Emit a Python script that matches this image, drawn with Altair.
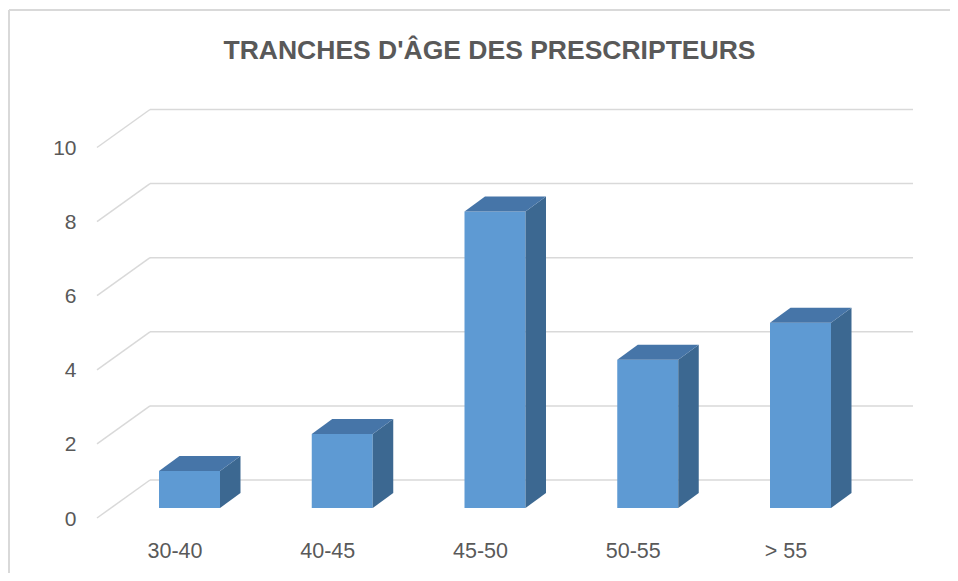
import altair as alt
import pandas as pd

# ---- data ----
categories = ["30-40", "40-45", "45-50", "50-55", "> 55"]
counts = [1, 2, 8, 4, 5]
y_ticks = [0, 2, 4, 6, 8, 10]
title_text = "TRANCHES D'ÂGE DES PRESCRIPTEURS"

# ---- layout (pixels) ----
W, H = 941, 563            # plot area
PX_X = 152.75              # px per category step
PX_Y = 37.05               # px per unit
X0 = 180.5                 # px of first category centre inside the view
Y0 = 498.0                 # px of value 0 (bar plane) inside the view
x_dom = [-X0 / PX_X, (W - X0) / PX_X]
y_dom = [-(H - Y0) / PX_Y, Y0 / PX_Y]

HALF = 30.5 / PX_X         # half bar width
DX = 20.5 / PX_X           # depth x
DY = 15.0 / PX_Y           # depth y
G_BACK_X = -39.5 / PX_X
G_FRONT_X = -92.5 / PX_X
G_END_X = 723.5 / PX_X
G_BACK_Y = 28.0 / PX_Y
G_FRONT_Y = -10.0 / PX_Y

FRONT, TOP, SIDE = "#5E9AD3", "#4675A8", "#3C6891"
GRID = "#D9D9D9"
TXT = "#595959"

xs = alt.Scale(domain=x_dom, nice=False, zero=False)
ys = alt.Scale(domain=y_dom, nice=False, zero=False)

label_expr = "[" + ",".join("'" + c + "'" for c in categories) + "][datum.value]"
x_axis = alt.Axis(values=list(range(len(categories))), labelExpr=label_expr,
                  grid=False, domain=False, ticks=False, tickSize=0,
                  labelPadding=0, labelBaseline="middle", offset=-22,
                  labelOffset=-15, labelFontSize=21.5, labelColor=TXT,
                  labelFont="Liberation Sans", title=None)
y_axis = alt.Axis(values=y_ticks, grid=False, domain=False, ticks=False,
                  tickSize=0, labelPadding=0, offset=-67, labelOffset=11,
                  labelBaseline="middle", labelFontSize=21, labelColor=TXT,
                  labelFont="Liberation Sans", title=None)


def X(f):
    return alt.X(f, scale=xs, axis=x_axis, title=None)


def Y(f):
    return alt.Y(f, scale=ys, axis=y_axis, title=None)


# grid tables
grid_h = pd.DataFrame({"x": [G_BACK_X] * len(y_ticks), "x2": [G_END_X] * len(y_ticks),
                       "y": [t + G_BACK_Y for t in y_ticks]})
grid_d = pd.DataFrame({"x": [G_FRONT_X] * len(y_ticks), "x2": [G_BACK_X] * len(y_ticks),
                       "y": [t + G_FRONT_Y for t in y_ticks], "y2": [t + G_BACK_Y for t in y_ticks]})

# bar faces
front = pd.DataFrame({"cat": categories, "i": range(len(categories)), "v": counts})
front["x"] = front["i"] - HALF
front["x2"] = front["i"] + HALF
front["y"] = front["v"]
front["y2"] = 0.0

side_rows, top_rows = [], []
for i, (c, v) in enumerate(zip(categories, counts)):
    side_rows += [{"cat": c, "x": i + HALF, "y": 0.0, "y2": v},
                  {"cat": c, "x": i + HALF + DX, "y": DY, "y2": v + DY}]
    top_rows += [{"cat": c, "y": v, "x": i - HALF, "x2": i + HALF},
                 {"cat": c, "y": v + DY, "x": i - HALF + DX, "x2": i + HALF + DX}]
side = pd.DataFrame(side_rows)
top = pd.DataFrame(top_rows)

grid_h_layer = alt.Chart(grid_h).mark_rule(color=GRID, strokeWidth=1.5).encode(
    x=X("x:Q"), x2="x2", y=Y("y:Q"))
grid_d_layer = alt.Chart(grid_d).mark_rule(color=GRID, strokeWidth=1.5).encode(
    x=X("x:Q"), x2="x2", y=Y("y:Q"), y2="y2")

front_layer = alt.Chart(front).mark_rect(color=FRONT).encode(
    x=X("x:Q"), x2="x2", y=Y("y:Q"), y2="y2")
side_layer = alt.Chart(side).mark_area(color=SIDE, orient="vertical").encode(
    x=X("x:Q"), y=Y("y:Q"), y2="y2", detail="cat:N")
top_layer = alt.Chart(top).mark_area(color=TOP, orient="horizontal").encode(
    y=Y("y:Q"), x=X("x:Q"), x2="x2", detail="cat:N")

frame = pd.DataFrame({"k": [0]})
frame_top = alt.Chart(frame).mark_rule(color=GRID, strokeWidth=2).encode(
    x=alt.value(0), x2=alt.value(W + 1), y=alt.value(0))
frame_left = alt.Chart(frame).mark_rule(color=GRID, strokeWidth=2).encode(
    x=alt.value(0), x2=alt.value(0), y=alt.value(0), y2=alt.value(H + 10))

chart = alt.layer(
    frame_top, frame_left, grid_h_layer, grid_d_layer, front_layer, side_layer, top_layer
).properties(
    width=W, height=H,
    autosize=alt.AutoSizeParams(type="none"),
    padding={"left": 1, "top": 2, "right": 0, "bottom": 0},
    background="white",
    title=alt.TitleParams(title_text, font="Liberation Sans", fontSize=26.5,
                          fontWeight="bold", color=TXT, anchor="middle", dx=10,
                          offset=-68, baseline="middle"),
).configure_view(stroke=None, strokeWidth=0, fill="white")

chart.save("out.html", embed_options={"renderer": "svg", "actions": False})
